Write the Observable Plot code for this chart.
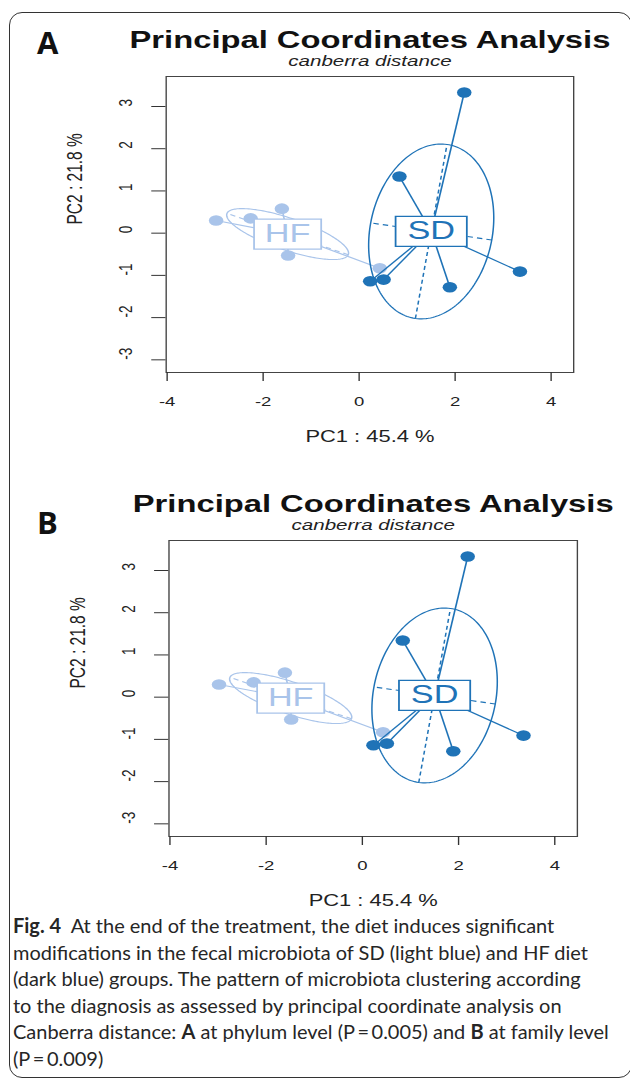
<!DOCTYPE html>
<html><head><meta charset="utf-8">
<script src="https://cdn.jsdelivr.net/npm/d3@7"></script>
<script src="https://cdn.jsdelivr.net/npm/@observablehq/plot@0.6"></script>
<style>
html,body{margin:0;padding:0;background:#fff;}
body{width:630px;height:1082px;position:relative;overflow:hidden;}
#border{position:absolute;left:9px;top:12px;width:623px;height:1066px;border:1.2px solid #333;border-radius:13px;box-sizing:border-box;}
.plabel{position:absolute;left:37px;font-family:"Open Sans",sans-serif;font-weight:700;font-size:31px;line-height:1;color:#111;}
.panel{position:absolute;left:0;}
#caption{position:absolute;left:13px;top:912px;font-family:Lato,sans-serif;font-size:19px;line-height:26.5px;color:#262626;white-space:nowrap;}
#caption div{white-space:nowrap;}
</style>
</head><body>
<div id="border"></div>
<div class="plabel" style="top:26.6px">A</div>
<div class="plabel" style="top:506.6px">B</div>
<div id="panelA" class="panel" style="top:14px"></div>
<div id="panelB" class="panel" style="top:478px"></div>
<div id="caption">
<div><b>Fig. 4</b>&nbsp; At the end of the treatment, the diet induces significant</div>
<div>modifications in the fecal microbiota of SD (light blue) and HF diet</div>
<div>(dark blue) groups. The pattern of microbiota clustering according</div>
<div>to the diagnosis as assessed by principal coordinate analysis on</div>
<div id="capfit">Canberra distance: <b>A</b> at phylum level (P&#8201;=&#8201;0.005) and <b>B</b> at family level</div>
<div>(P&#8201;=&#8201;0.009)</div>
</div>
<script>
// ---- data ----
const groups = ["HF", "SD"];
const hfX = [-2.98, -2.26, -1.61, -1.48, 0.43, -1.04];
const hfY = [0.30, 0.35, 0.58, -0.53, -0.83, 0.00];
const sdX = [2.19, 0.84, 3.35, 1.89, 0.23, 0.51];
const sdY = [3.33, 1.34, -0.91, -1.28, -1.14, -1.10];
const xTicks = [-4, -2, 0, 2, 4];
const yTicks = [-3, -2, -1, 0, 1, 2, 3];
const titleText = "Principal Coordinates Analysis";
const subtitleText = "canberra distance";
const xLabel = "PC1 : 45.4 %";
const yLabel = "PC2 : 21.8 %";
const colors = {HF: "#a9c4ea", SD: "#1f73b7"};
const cEllipse = 1.2;

const STRETCH = 1.37;
const PAGE_W = 630;
const Wu = PAGE_W / STRETCH;
const H = 446;

function groupGeom(name, xs, ys) {
  const n = xs.length;
  const pts = xs.map((x, i) => ({group: name, x, y: ys[i]}));
  const mx = d3.mean(xs), my = d3.mean(ys);
  let sxx = 0, syy = 0, sxy = 0;
  for (let i = 0; i < n; i++) {
    const dx = xs[i] - mx, dy = ys[i] - my;
    sxx += dx * dx / n; syy += dy * dy / n; sxy += dx * dy / n;
  }
  const tr = sxx + syy, det = sxx * syy - sxy * sxy;
  const disc = Math.sqrt(Math.max(0, tr * tr / 4 - det));
  const l1 = tr / 2 + disc, l2 = Math.max(0, tr / 2 - disc);
  let vx = sxy, vy = l1 - sxx;
  const nv = Math.hypot(vx, vy) || 1; vx /= nv; vy /= nv;
  const ux = -vy, uy = vx;
  const a = cEllipse * Math.sqrt(l1), b = cEllipse * Math.sqrt(l2);
  const outline = d3.range(0, 361, 2).map(deg => {
    const t = deg * Math.PI / 180;
    return {x: mx + a * Math.cos(t) * vx + b * Math.sin(t) * ux,
            y: my + a * Math.cos(t) * vy + b * Math.sin(t) * uy};
  });
  const axes = [
    {x1: mx - a * vx, y1: my - a * vy, x2: mx + a * vx, y2: my + a * vy},
    {x1: mx - b * ux, y1: my - b * uy, x2: mx + b * ux, y2: my + b * uy}
  ];
  const stars = pts.map(p => ({x1: p.x, y1: p.y, x2: mx, y2: my}));
  return {name, pts, center: {x: mx, y: my}, outline, axes, stars};
}

const boxSym = (w, h) => ({draw(ctx) {
  ctx.moveTo(-w / 2, -h / 2); ctx.lineTo(w / 2, -h / 2);
  ctx.lineTo(w / 2, h / 2); ctx.lineTo(-w / 2, h / 2); ctx.closePath();
}});

function groupMarks(g) {
  const col = colors[g.name];
  return [
    Plot.line(g.outline, {x: "x", y: "y", stroke: col, strokeWidth: 1.1}),
    Plot.link(g.axes, {x1: "x1", y1: "y1", x2: "x2", y2: "y2", stroke: col, strokeWidth: 1.1, strokeDasharray: "4,3"}),
    Plot.link(g.stars, {x1: "x1", y1: "y1", x2: "x2", y2: "y2", stroke: col, strokeWidth: 1.2}),
    Plot.dot(g.pts, {x: "x", y: "y", r: 5.3, fill: col, stroke: "none"})
  ];
}
function labelMarks(g, w) {
  const col = colors[g.name];
  return [
    Plot.dot([g.center], {x: "x", y: "y", r: 5, symbol: boxSym(w, 30), fill: "white", stroke: col, strokeWidth: 1.3}),
    Plot.text([g.center], {x: "x", y: "y", text: () => g.name, fill: col, fontSize: 25, lineAnchor: "middle"})
  ];
}

function makePanel(el, ml, mr) {
  const gHF = groupGeom("HF", hfX, hfY);
  const gSD = groupGeom("SD", sdX, sdY);
  const svg = Plot.plot({
    width: Wu, height: H,
    marginLeft: ml, marginRight: mr, marginTop: 62, marginBottom: 88,
    x: {domain: [-4.02, 4.47]},
    y: {domain: [-3.30, 3.71]},
    style: {fontFamily: "'Liberation Sans', Arial, sans-serif", color: "#222", background: "transparent", overflow: "visible"},
    marks: [
      ...groupMarks(gHF),
      ...groupMarks(gSD),
      ...labelMarks(gHF, 49),
      ...labelMarks(gSD, 52),
      Plot.frame({stroke: "#444", strokeWidth: 1}),
      Plot.axisX({ticks: xTicks, tickSize: 9, tickPadding: 15, fontSize: 13.5, label: null, tickFormat: d => String(d), stroke: "#333", fill: "#222"}),
      Plot.axisY({ticks: yTicks, tickSize: 10.4, label: null, tickFormat: () => "", stroke: "#333"}),
      Plot.text(yTicks, {y: d => d, text: d => String(d), frameAnchor: "left", dx: -29.2, rotate: -90, fontSize: 13.5, fill: "#222", lineAnchor: "middle"}),
      Plot.text([yLabel], {text: d => d, frameAnchor: "left", dx: -66.4, rotate: -90, fontSize: 15.5, fill: "#222", lineAnchor: "middle"}),
      Plot.text([xLabel], {text: d => d, frameAnchor: "bottom", dy: 64.7, fontSize: 16, fill: "#222", lineAnchor: "middle"}),
      Plot.text([titleText], {text: d => d, frameAnchor: "top", dy: -29, lineAnchor: "bottom", fontSize: 23.9, fontWeight: "bold", fill: "#111"}),
      Plot.text([subtitleText], {text: d => d, frameAnchor: "top", dy: -11, lineAnchor: "bottom", fontSize: 15, fontStyle: "italic", fill: "#222"})
    ]
  });
  svg.setAttribute("preserveAspectRatio", "none");
  svg.style.width = PAGE_W + "px";
  svg.style.height = H + "px";
  svg.style.maxWidth = "none";
  el.appendChild(svg);
}

makePanel(document.getElementById("panelA"), 165.5 / STRETCH, (PAGE_W - 573) / STRETCH);
makePanel(document.getElementById("panelB"), 168.3 / STRETCH, (PAGE_W - 576.7) / STRETCH);

// fit caption size to the reference line width
const cf = document.getElementById("capfit");
const cap = document.getElementById("caption");
const w0 = cf.getBoundingClientRect().width;
const target = 596;
cap.style.fontSize = (19 * target / w0).toFixed(2) + "px";
</script>
</body></html>
